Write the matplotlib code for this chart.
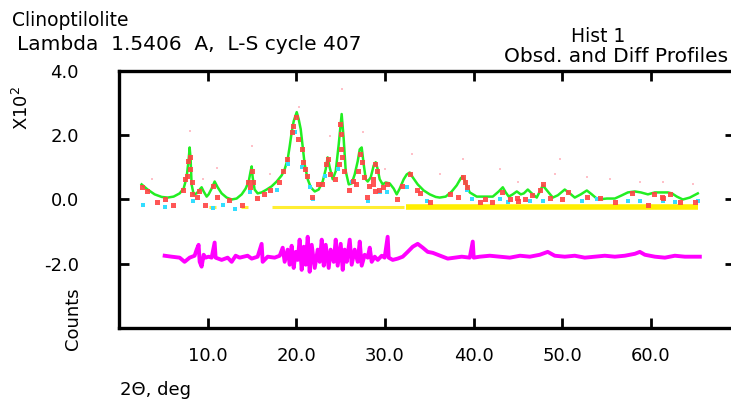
import matplotlib
matplotlib.use("Agg")
import matplotlib.pyplot as plt

plt.rcParams["font.family"] = ["DejaVu Sans"]

# calculated profile (green), 2theta in deg, counts in units of 100
calc_x = [2.55, 3.23, 4.02, 4.81, 5.49, 6.16, 6.84, 7.29, 7.63, 7.86, 7.97, 8.08, 8.19, 8.42,
          8.76, 9.10, 9.32, 9.55, 9.89, 10.11, 10.45, 10.79, 11.13, 11.58, 12.14, 12.71, 13.27,
          13.84, 14.29, 14.63, 14.85, 14.97, 15.08, 15.30, 15.64, 16.09, 16.66, 17.22, 17.79,
          18.35, 18.69, 19.03, 19.26, 19.48, 19.71, 20.05, 20.27, 20.50, 20.72, 20.95, 21.29,
          21.63, 22.08, 22.53, 22.98, 23.32, 23.54, 23.77, 24.11, 24.45, 24.79, 25.12, 25.35,
          25.58, 25.92, 26.25, 26.59, 26.93, 27.16, 27.38, 27.61, 27.84, 28.06, 28.40, 28.74,
          28.96, 29.19, 29.41, 29.75, 30.09, 30.54, 30.99, 31.33, 31.67, 32.12, 32.46, 32.80,
          33.14, 33.70, 34.38, 35.06, 35.73, 36.18, 36.86, 37.54, 38.10, 38.56, 38.78, 39.12,
          39.57, 40.36, 41.38, 42.17, 42.84, 43.30, 43.63, 43.97, 44.42, 44.88, 45.33, 45.67,
          46.12, 46.57, 47.13, 47.47, 47.81, 48.37, 48.94, 49.50, 50.29, 50.86, 51.42, 52.10,
          52.78, 53.34, 54.02, 55.04, 55.94, 56.73, 57.41, 58.20, 58.88, 59.67, 60.46, 61.25,
          61.93, 62.38, 62.94, 63.61, 64.40, 65.30]
calc_y = [0.47, 0.31, 0.16, 0.08, 0.06, 0.09, 0.19, 0.34, 0.69, 1.25, 1.62, 1.25, 0.47, 0.16,
          0.19, 0.31, 0.38, 0.25, 0.09, 0.16, 0.34, 0.56, 0.38, 0.19, 0.06, 0.00, 0.03,
          0.16, 0.34, 0.56, 0.88, 1.03, 0.69, 0.31, 0.19, 0.22, 0.31, 0.41, 0.56,
          0.75, 0.94, 1.25, 1.66, 2.09, 2.44, 2.72, 2.50, 2.19, 1.66, 1.09, 0.63,
          0.38, 0.25, 0.31, 0.56, 0.94, 1.31, 1.00, 0.63, 0.88, 1.72, 2.66, 1.88,
          0.88, 0.47, 0.50, 0.78, 1.19, 1.56, 1.62, 1.09, 0.63, 0.56, 0.69, 1.06,
          1.16, 0.94, 0.63, 0.47, 0.53, 0.50, 0.34, 0.16, 0.34, 0.63, 0.78, 0.84,
          0.69, 0.47, 0.28, 0.16, 0.08, 0.06, 0.09, 0.25, 0.44, 0.66, 0.72, 0.50,
          0.22, 0.09, 0.09, 0.09, 0.25, 0.38, 0.22, 0.09, 0.16, 0.25, 0.16, 0.19,
          0.31, 0.19, 0.06, 0.25, 0.44, 0.25, 0.06, 0.13, 0.31, 0.19, 0.06, 0.16,
          0.28, 0.16, 0.00, 0.03, 0.03, 0.13, 0.22, 0.25, 0.22, 0.16, 0.22, 0.22,
          0.22, 0.19, 0.09, 0.00, 0.06, 0.19]

# observed points (red)
obs_x = [2.55, 3.12, 4.24, 6.05, 7.18, 7.40, 7.63, 7.74, 7.97, 7.97, 8.19, 8.19, 8.76, 9.66,
         10.56, 11.02, 13.84, 14.52, 14.74, 15.08, 15.53, 14.97, 17.0, 18.47, 18.92, 19.48,
         19.6, 19.94, 20.16, 20.61, 20.72, 20.95, 21.74, 22.42, 23.3, 23.6, 23.8, 24.9, 25.1,
         25.0, 25.2, 24.8, 25.4, 24.4, 26.0, 27.2, 27.4, 27.0, 27.6, 26.7, 28.9, 29.1, 28.7,
         29.3, 27.95, 28.62, 28.85, 30.2, 31.33, 32.8, 33.59, 35.06, 38.22, 38.78, 39.0,
         39.23, 40.70, 42.05, 43.18, 44.09, 44.88, 45.0, 45.8, 47.47, 47.81, 48.6, 49.94,
         52.78, 55.94, 59.67, 61.25, 61.36, 63.27, 64.96,
         5.2, 9.0, 12.4, 16.4, 18.0, 21.2, 22.9, 26.4, 28.2, 29.8, 31.9, 34.0, 37.3, 41.3,
         46.6, 50.6, 54.3, 57.9, 60.4, 62.2]
obs_y = [0.38, 0.25, -0.09, -0.16, 0.31, 0.63, 0.72, 1.19, 1.31, 0.94, 0.53, 0.16, 0.09, -0.16,
         0.41, 0.09, -0.16, 0.56, 0.38, 0.53, 0.06, 0.88, 0.31, 0.88, 1.25, 2.09,
         2.28, 2.56, 1.88, 1.56, 1.16, 0.94, 0.09, 0.47, 1.09, 1.25, 0.78, 2.34, 2.03,
         1.56, 1.31, 1.09, 0.88, 0.63, 0.31, 1.41, 1.16, 0.88, 0.69, 0.47, 1.09, 0.88, 0.63,
         0.31, 0.09, 0.47, 0.25, 0.47, 0.00, 0.78, 0.31, -0.09, 0.09, 0.69, 0.53,
         0.38, -0.09, -0.09, 0.22, 0.00, 0.06, -0.06, 0.00, 0.31, 0.47, 0.06, 0.00,
         0.09, -0.09, -0.16, 0.09, 0.06, -0.09, -0.09,
         0.03, 0.25, -0.03, 0.16, 0.53, 0.72, 0.47, 0.59, 0.41, 0.38, 0.41, 0.19, 0.16, 0.03,
         0.13, 0.22, 0.06, 0.19, 0.16, 0.16]

# faint observed points far off the profile (pink)
stray_x = [7.97, 3.68, 11.0, 14.97, 9.43, 20.27, 25.12, 27.5, 23.77, 33.0, 38.78, 45.0,
           52.78, 58.76, 61.36, 64.74, 17.0, 30.0, 36.2, 42.96, 49.16, 55.4, 49.7]
stray_y = [2.13, 0.63, 0.97, 1.66, 0.63, 2.88, 3.44, 2.09, 1.97, 1.41, 1.25, 0.56,
           0.69, 0.53, 0.56, 0.47, 0.78, 0.94, 0.78, 0.94, 0.78, 0.63, 1.25]

# cyan points
cyan_x = [2.66, 5.15, 8.31, 10.56, 11.69, 13.05, 14.74, 17.79, 19.03, 19.9, 20.6, 21.51,
          21.85, 23.2, 24.67, 26.25, 28.06, 29.41, 30.20, 32.46, 34.72, 39.23, 39.80, 42.96,
          43.86, 46.35, 47.81, 52.21, 53.90, 57.41, 58.76, 61.36, 62.71, 65.30]
cyan_y = [-0.16, -0.22, -0.06, -0.25, -0.16, -0.31, 0.22, 0.31, 1.09, 2.1, 1.0, 0.38,
          0.00, 0.72, 0.94, 0.56, -0.06, 0.22, 0.22, 0.38, -0.06, 0.31, 0.00, 0.00,
          -0.09, -0.06, -0.06, -0.06, 0.00, -0.06, -0.06, -0.06, -0.09, -0.06]

# reflection marker bands
refl_level = -0.22
refl_thin = [(10.2, 10.9), (13.8, 14.5), (17.3, 32.1)]
refl_thick = [(32.4, 65.3)]

# difference curve (magenta)
diff_x = [5.15, 5.94, 6.84, 7.40, 7.97, 8.53, 8.76, 8.98, 9.10, 9.32, 9.55, 9.77, 10.11, 10.45,
          10.79, 10.90, 11.58, 12.26, 12.71, 13.16, 13.61, 14.51, 14.97, 15.64, 16.09, 16.21,
          16.77, 17.56, 18.13, 18.47, 18.69, 19.03, 19.26, 19.48, 19.71, 19.93, 20.16, 20.38,
          20.61, 20.84, 21.06, 21.29, 21.51, 21.74, 22.08, 22.42, 22.64, 22.87, 23.10, 23.32,
          23.66, 23.88, 24.22, 24.45, 24.67, 25.01, 25.24, 25.46, 25.69, 26.03, 26.25, 26.59,
          26.93, 27.16, 27.38, 27.72, 28.06, 28.29, 28.51, 28.85, 29.19, 29.64, 29.97, 30.31,
          30.43, 30.88, 31.44, 32.01, 32.57, 33.14, 33.70, 34.27, 34.83, 35.40, 35.96, 36.52,
          37.09, 37.88, 38.67, 39.57, 39.91, 40.02, 40.70, 41.83, 42.96, 44.09, 45.24, 46.35,
          47.47, 48.37, 49.16, 50.29, 51.42, 52.55, 53.68, 54.81, 55.94, 57.07, 58.20, 58.76,
          59.33, 60.46, 61.59, 62.71, 63.84, 64.96, 65.53]
diff_y = [-1.75, -1.78, -1.81, -1.94, -1.81, -1.75, -1.56, -1.41, -1.94, -2.09, -1.72, -1.81,
          -1.78, -1.81, -1.34, -1.81, -1.88, -1.81, -1.94, -1.75, -1.81, -1.75, -1.84, -1.78,
          -1.38, -1.94, -1.78, -1.81, -1.75, -1.50, -1.94, -1.56, -2.03, -1.44, -2.13, -1.63,
          -1.88, -1.25, -2.19, -1.47, -2.03, -1.16, -2.25, -1.41, -2.13, -1.56, -1.94, -1.25,
          -2.06, -1.41, -2.13, -1.56, -1.94, -1.25, -2.06, -1.38, -2.19, -1.56, -1.94, -1.25,
          -2.03, -1.56, -1.94, -1.31, -2.06, -1.72, -1.81, -1.50, -1.94, -1.78, -1.88, -1.75,
          -1.81, -1.16, -1.81, -1.88, -1.84, -1.78, -1.63, -1.47, -1.38, -1.50, -1.63, -1.66,
          -1.72, -1.78, -1.84, -1.81, -1.78, -1.81, -1.31, -1.81, -1.78, -1.75, -1.78, -1.81,
          -1.75, -1.78, -1.72, -1.63, -1.75, -1.78, -1.75, -1.81, -1.78, -1.75, -1.78, -1.75,
          -1.69, -1.63, -1.72, -1.78, -1.81, -1.75, -1.78, -1.78, -1.78]

x_ticks = [10, 20, 30, 40, 50, 60]
y_ticks = [-2, 0, 2, 4]

fig = plt.figure(figsize=(7.31, 4.01), dpi=100)
ax = fig.add_axes([0.1628, 0.182, 0.8427, 0.641])

for a, b in refl_thin:
    ax.plot([a, b], [refl_level, refl_level], color="#ffee33", lw=2.2, solid_capstyle="butt")
for a, b in refl_thick:
    ax.plot([a, b], [refl_level, refl_level], color="#ffee00", lw=4, solid_capstyle="butt")

ax.plot(diff_x, diff_y, color="#ff00ff", lw=2.8)
ax.plot(calc_x, calc_y, color="#22ee22", lw=1.8)
ax.plot(stray_x, stray_y, ls="none", marker="s", ms=2, color="#ffc0c8", mew=0)
ax.plot(cyan_x, cyan_y, ls="none", marker="s", ms=3.2, color="#33ddff", mew=0)
ax.plot(obs_x, obs_y, ls="none", marker="s", ms=3.6, color="#ff4444", mew=0, alpha=0.9)

ax.set_xlim(0, 69.5)
ax.set_ylim(-4, 4)
ax.set_xticks(x_ticks)
ax.set_yticks(y_ticks)
ax.set_xticklabels(["%.1f" % t for t in x_ticks])
ax.set_yticklabels(["%.1f" % t for t in y_ticks])
ax.tick_params(direction="in", length=7, width=2, top=True, right=True, labelsize=13)
ax.tick_params(axis="y", pad=29)
ax.tick_params(axis="x", pad=14)
for s in ax.spines.values():
    s.set_linewidth(2.4)

fig.text(0.016, 0.95, "Clinoptilolite", fontsize=13.5, va="center", ha="left")
fig.text(0.023, 0.888, "Lambda  1.5406  A,  L-S cycle 407", fontsize=14.5, va="center", ha="left")
fig.text(0.818, 0.908, "Hist 1", fontsize=13.5, va="center", ha="center")
fig.text(0.996, 0.858, "Obsd. and Diff Profiles", fontsize=14.5, va="center", ha="right")
fig.text(0.030, 0.73, "X10$^2$", fontsize=13, rotation=90, va="center", ha="center")
fig.text(0.100, 0.205, "Counts", fontsize=13, rotation=90, va="center", ha="center")
fig.text(0.164, 0.027, "2\u0398, deg", fontsize=13, va="center", ha="left")

fig.savefig("out.png", dpi=100)
